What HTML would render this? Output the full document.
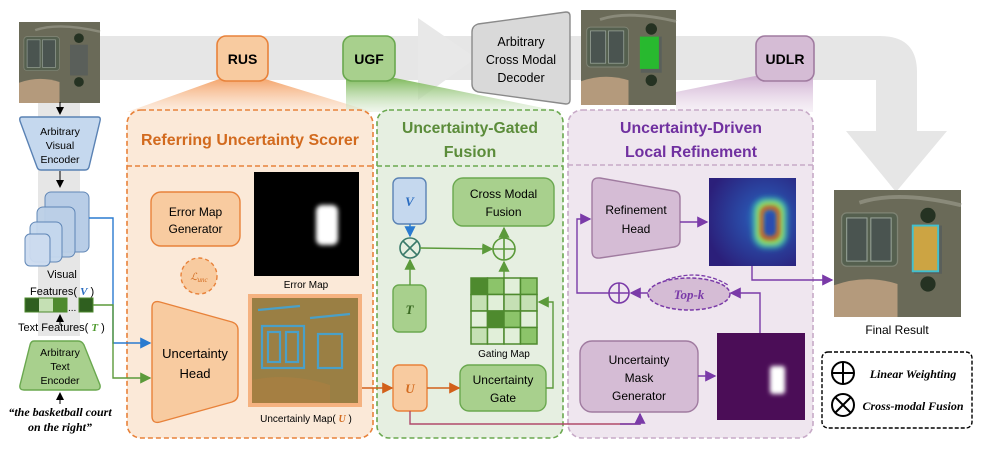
<!DOCTYPE html>
<html><head><meta charset="utf-8"><style>
html,body{margin:0;padding:0;background:#fff;}
svg{display:block;font-family:"Liberation Sans",sans-serif;}
</style></head><body>
<svg width="996" height="454" viewBox="0 0 996 454" xmlns="http://www.w3.org/2000/svg">
<defs>
<linearGradient id="go" x1="0" y1="0" x2="0" y2="1"><stop offset="0" stop-color="#f4a46a"/><stop offset="1" stop-color="#fbe3cf" stop-opacity="0.6"/></linearGradient>
<linearGradient id="gg" x1="0" y1="0" x2="0" y2="1"><stop offset="0" stop-color="#7fba5c"/><stop offset="1" stop-color="#e1eedb" stop-opacity="0.5"/></linearGradient>
<linearGradient id="gp" x1="0" y1="0" x2="0" y2="1"><stop offset="0" stop-color="#c9a6cc"/><stop offset="1" stop-color="#efe4ef" stop-opacity="0.5"/></linearGradient>
<radialGradient id="heat" cx="0.65" cy="0.45" r="0.7"><stop offset="0" stop-color="#2a7cc8"/><stop offset="0.35" stop-color="#2a4ca8"/><stop offset="1" stop-color="#2b1f7a"/></radialGradient>
<filter id="b3" x="-50%" y="-50%" width="200%" height="200%"><feGaussianBlur stdDeviation="3"/></filter>
<filter id="b2" x="-50%" y="-50%" width="200%" height="200%"><feGaussianBlur stdDeviation="2"/></filter>
<marker id="ab" markerWidth="8" markerHeight="8" refX="7" refY="4" orient="auto"><path d="M0,0L8,4L0,8z" fill="#2a7bd0"/></marker>
<marker id="ag" markerWidth="8" markerHeight="8" refX="7" refY="4" orient="auto"><path d="M0,0L8,4L0,8z" fill="#5b9a3a"/></marker>
<marker id="ao" markerWidth="8" markerHeight="8" refX="7" refY="4" orient="auto"><path d="M0,0L8,4L0,8z" fill="#d2601a"/></marker>
<marker id="ap" markerWidth="8" markerHeight="8" refX="7" refY="4" orient="auto"><path d="M0,0L8,4L0,8z" fill="#7a3aa8"/></marker>
<marker id="ak" markerWidth="8" markerHeight="8" refX="7" refY="4" orient="auto"><path d="M0,0L8,4L0,8z" fill="#000"/></marker>
<g id="aerial">
<rect x="0" y="0" width="100" height="100" fill="#6a6a58"/>
<path d="M0,75 Q25,66 50,74 L50,100 L0,100z" fill="#b49a7c"/>
<path d="M20,10 Q50,0 100,12" stroke="#8a8a7a" stroke-width="3" fill="none"/>
<rect x="6" y="18" width="44" height="42" rx="4" fill="#55604f" stroke="#7f8474"/>
<rect x="10" y="22" width="16" height="34" fill="#4a5450" stroke="#9aa59a" stroke-width="0.8"/>
<rect x="29" y="22" width="16" height="34" fill="#4a5450" stroke="#9aa59a" stroke-width="0.8"/>
<rect x="63" y="28" width="22" height="38" fill="#5a5f5a"/>
<circle cx="74" cy="20" r="6" fill="#253222"/><circle cx="74" cy="74" r="6" fill="#253222"/>
</g>
</defs>

<!-- gray band -->
<rect x="38" y="96" width="42" height="240" fill="#e6e6e6"/>
<rect x="100" y="36" width="380" height="44" fill="#e6e6e6"/>
<path d="M418,18 L476,58 L418,100z" fill="#e8e8e8"/>
<path d="M570,36 L880,36 Q917,36 917,72 L917,131 L947,131 L896,192 L846,131 L876,131 L876,80 L570,80z" fill="#e6e6e6"/>

<!-- fans -->
<path d="M222,78 L127,112 L373,112 L262,78z" fill="url(#go)"/>
<path d="M346,78 L346,112 L563,112 L395,78z" fill="url(#gg)"/>
<path d="M676,92 L676,112 L813,112 L813,72 L760,75z" fill="url(#gp)"/>

<!-- panels -->
<rect x="127" y="110" width="246" height="328" rx="14" fill="#fbe9d8" stroke="#e8823a" stroke-width="1.6" stroke-dasharray="5,3"/>
<line x1="127" y1="166" x2="373" y2="166" stroke="#e8823a" stroke-width="1.5" stroke-dasharray="5,3"/>
<rect x="377" y="110" width="186" height="328" rx="12" fill="#e6efe1" stroke="#6aa84f" stroke-width="1.6" stroke-dasharray="5,3"/>
<line x1="377" y1="166" x2="563" y2="166" stroke="#6aa84f" stroke-width="1.5" stroke-dasharray="5,3"/>
<rect x="568" y="110" width="245" height="328" rx="14" fill="#efe6ef" stroke="#c7aac7" stroke-width="1.6" stroke-dasharray="5,3"/>
<line x1="568" y1="165" x2="813" y2="165" stroke="#c7aac7" stroke-width="1.5" stroke-dasharray="5,3"/>

<text x="250" y="145" text-anchor="middle" font-size="16" font-weight="bold" fill="#d26a1e" textLength="218" lengthAdjust="spacingAndGlyphs">Referring Uncertainty Scorer</text>
<text x="470" y="133" text-anchor="middle" font-size="16" font-weight="bold" fill="#5b8c3a" textLength="136" lengthAdjust="spacingAndGlyphs">Uncertainty-Gated</text>
<text x="470" y="157" text-anchor="middle" font-size="16" font-weight="bold" fill="#5b8c3a">Fusion</text>
<text x="691" y="133" text-anchor="middle" font-size="16" font-weight="bold" fill="#7030a0" textLength="142" lengthAdjust="spacingAndGlyphs">Uncertainty-Driven</text>
<text x="691" y="157" text-anchor="middle" font-size="16" font-weight="bold" fill="#7030a0" textLength="132" lengthAdjust="spacingAndGlyphs">Local Refinement</text>

<!-- top buttons -->
<rect x="217" y="36" width="51" height="45" rx="9" fill="#f8cba0" stroke="#e8823a" stroke-width="1.6"/>
<text x="242.5" y="64" text-anchor="middle" font-size="14" font-weight="bold">RUS</text>
<rect x="343" y="36" width="52" height="45" rx="9" fill="#a8d08d" stroke="#6aa84f" stroke-width="1.6"/>
<text x="369" y="64" text-anchor="middle" font-size="14" font-weight="bold">UGF</text>
<rect x="756" y="36" width="58" height="45" rx="9" fill="#d5bcd5" stroke="#a07ba0" stroke-width="1.6"/>
<text x="785" y="64" text-anchor="middle" font-size="14" font-weight="bold">UDLR</text>

<!-- decoder -->
<path d="M478,24 L566,12 Q570,12 570,16 L570,100 Q570,104 566,104 L478,92 Q472,90 472,84 L472,32 Q472,26 478,24z" fill="#d9d9d9" stroke="#8a8a8a" stroke-width="1.4"/>
<text x="521" y="46" text-anchor="middle" font-size="12.5">Arbitrary</text>
<text x="521" y="64" text-anchor="middle" font-size="12.5">Cross Modal</text>
<text x="521" y="82" text-anchor="middle" font-size="12.5">Decoder</text>

<!-- images -->
<use href="#aerial" transform="translate(19,22) scale(0.81)"/>
<g transform="translate(581,10) scale(0.95)"><use href="#aerial"/><rect x="62" y="28" width="20" height="34" fill="#22c32a" opacity="0.9"/></g>
<g transform="translate(834,190) scale(1.27)"><use href="#aerial"/><rect x="62" y="28" width="20" height="36" fill="#e0b040" opacity="0.85"/><rect x="62" y="28" width="20" height="36" fill="none" stroke="#40c0d0" stroke-width="1.5"/></g>
<text x="897" y="334" text-anchor="middle" font-size="12">Final Result</text>

<!-- left column -->
<line x1="60" y1="102" x2="60" y2="114" stroke="#000" marker-end="url(#ak)"/>
<path d="M22,117 L98,117 Q101,117 100,121 L89,167 Q88,170 85,170 L41,170 Q38,170 37,167 L20,121 Q19,117 22,117z" fill="#c5d8ee" stroke="#5a82b4" stroke-width="1.4"/>
<text x="60" y="135" text-anchor="middle" font-size="10.5">Arbitrary</text>
<text x="60" y="149" text-anchor="middle" font-size="10.5">Visual</text>
<text x="60" y="163" text-anchor="middle" font-size="10.5">Encoder</text>
<line x1="60" y1="171" x2="60" y2="187" stroke="#000" marker-end="url(#ak)"/>
<rect x="45" y="192" width="44" height="60" rx="6" fill="#b5cbe6" stroke="#5a82b4" opacity="0.95"/>
<rect x="37" y="207" width="38" height="50" rx="6" fill="#bcd0e8" stroke="#5a82b4" opacity="0.95"/>
<rect x="30" y="222" width="32" height="40" rx="6" fill="#c5d8ee" stroke="#5a82b4" opacity="0.95"/>
<rect x="25" y="234" width="25" height="32" rx="5" fill="#cddcf0" stroke="#5a82b4" opacity="0.95"/>
<text x="62" y="278" text-anchor="middle" font-size="11">Visual</text>
<text x="30" y="295" font-size="11">Features( <tspan fill="#2a6cc0" font-style="italic" font-weight="bold" font-family="Liberation Serif">V</tspan> )</text>
<rect x="25" y="298" width="14" height="14" fill="#2f5f1f"/><rect x="39" y="298" width="14" height="14" fill="#c5e0b4"/><rect x="53" y="298" width="14" height="14" fill="#4e8a2e"/>
<rect x="25" y="298" width="42" height="14" fill="none" stroke="#4e8a2e"/>
<text x="68" y="311" font-size="10">...</text>
<rect x="79" y="298" width="14" height="14" fill="#2f5f1f" stroke="#4e8a2e"/>
<line x1="60" y1="325" x2="60" y2="315" stroke="#000" marker-end="url(#ak)"/>
<text x="18" y="331" font-size="11">Text Features( <tspan fill="#4e9a2e" font-style="italic" font-weight="bold" font-family="Liberation Serif">T</tspan> )</text>
<path d="M34,341 L78,341 Q82,341 84,345 L100,385 Q101,390 96,390 L24,390 Q19,390 20,385 L30,345 Q31,341 34,341z" fill="#a8d08d" stroke="#6aa84f" stroke-width="1.4"/>
<text x="60" y="356" text-anchor="middle" font-size="10.5">Arbitrary</text>
<text x="60" y="370" text-anchor="middle" font-size="10.5">Text</text>
<text x="60" y="384" text-anchor="middle" font-size="10.5">Encoder</text>
<line x1="60" y1="404" x2="60" y2="393" stroke="#000" marker-end="url(#ak)"/>
<text x="60" y="416" text-anchor="middle" font-size="12" font-weight="bold" font-style="italic" font-family="Liberation Serif">“the basketball court</text>
<text x="60" y="431" text-anchor="middle" font-size="12" font-weight="bold" font-style="italic" font-family="Liberation Serif">on the right”</text>

<!-- left connectors -->
<path d="M89,218 L113,218 L113,343 L150,343" fill="none" stroke="#2a7bd0" stroke-width="1.4" marker-end="url(#ab)"/>
<path d="M93,305 L113,305 L113,378 L150,378" fill="none" stroke="#5b9a3a" stroke-width="1.4" marker-end="url(#ag)"/>

<!-- RUS contents -->
<rect x="151" y="192" width="89" height="54" rx="10" fill="#f8cba0" stroke="#e8823a" stroke-width="1.4"/>
<text x="195.5" y="216" text-anchor="middle" font-size="12">Error Map</text>
<text x="195.5" y="233" text-anchor="middle" font-size="12">Generator</text>
<rect x="254" y="172" width="105" height="104" fill="#000"/>
<rect x="316" y="205" width="22" height="40" rx="6" fill="#fff" filter="url(#b2)"/>
<text x="306" y="288" text-anchor="middle" font-size="10">Error Map</text>
<circle cx="199" cy="276" r="18" fill="#f8cba0" stroke="#e8823a" stroke-width="1.4" stroke-dasharray="4,3"/>
<text x="199" y="280" text-anchor="middle" font-size="10" font-style="italic" font-family="Liberation Serif" fill="#d26a1e">ℒ<tspan font-size="7" dy="2">unc</tspan></text>
<path d="M160,302 L232,322 Q238,324 238,330 L238,394 Q238,400 232,402 L160,422 Q152,424 152,416 L152,308 Q152,300 160,302z" fill="#f8cba0" stroke="#e8823a" stroke-width="1.4"/>
<text x="195" y="358" text-anchor="middle" font-size="13">Uncertainty</text>
<text x="195" y="378" text-anchor="middle" font-size="13">Head</text>
<rect x="248" y="294" width="114" height="113" fill="#f4a46a" opacity="0.8"/>
<rect x="252" y="298" width="106" height="105" fill="#8a8648"/>
<rect x="252" y="298" width="106" height="105" fill="#c0703a" opacity="0.3"/>
<path d="M252,380 Q290,372 330,385 L330,403 L252,403z" fill="#b08040" opacity="0.5"/>
<g fill="none" stroke="#4aa0c8" stroke-width="2.2">
<rect x="262" y="326" width="42" height="42"/><rect x="268" y="332" width="12" height="30"/><rect x="286" y="332" width="12" height="30"/>
<rect x="318" y="334" width="24" height="34"/>
<path d="M258,310 L300,306 M310,318 L350,314"/>
</g>
<text x="306" y="422" text-anchor="middle" font-size="10">Uncertainly Map( <tspan fill="#d26a1e" font-style="italic" font-weight="bold" font-family="Liberation Serif">U</tspan> )</text>

<!-- UGF contents -->
<rect x="393" y="178" width="33" height="46" rx="6" fill="#c5d8ee" stroke="#5a82b4" stroke-width="1.4"/>
<text x="409.5" y="206" text-anchor="middle" font-size="13" font-weight="bold" font-style="italic" font-family="Liberation Serif" fill="#2a6cc0">V</text>
<rect x="393" y="285" width="33" height="47" rx="6" fill="#a8d08d" stroke="#6aa84f" stroke-width="1.4"/>
<text x="409.5" y="314" text-anchor="middle" font-size="13" font-weight="bold" font-style="italic" font-family="Liberation Serif" fill="#3a6a22">T</text>
<rect x="453" y="178" width="101" height="48" rx="10" fill="#a8d08d" stroke="#6aa84f" stroke-width="1.4"/>
<text x="503.5" y="198" text-anchor="middle" font-size="12">Cross Modal</text>
<text x="503.5" y="216" text-anchor="middle" font-size="12">Fusion</text>
<line x1="410" y1="224" x2="410" y2="236" stroke="#2a7bd0" stroke-width="1.4" marker-end="url(#ab)"/>
<line x1="410" y1="285" x2="410" y2="260" stroke="#5b9a3a" stroke-width="1.4" marker-end="url(#ag)"/>
<circle cx="410" cy="248" r="10" fill="none" stroke="#3a7a6a" stroke-width="1.6"/>
<path d="M403,241L417,255M417,241L403,255" stroke="#3a7a6a" stroke-width="1.6"/>
<line x1="420" y1="248" x2="492" y2="249" stroke="#5b9a3a" stroke-width="1.4" marker-end="url(#ag)"/>
<circle cx="504" cy="249" r="11" fill="none" stroke="#5b9a3a" stroke-width="1.6"/>
<path d="M493,249H515M504,238V260" stroke="#5b9a3a" stroke-width="1.6"/>
<line x1="504" y1="238" x2="504" y2="228" stroke="#5b9a3a" stroke-width="1.4" marker-end="url(#ag)"/>
<line x1="504" y1="278" x2="504" y2="262" stroke="#5b9a3a" stroke-width="1.4" marker-end="url(#ag)"/>
<g stroke="#4e8a2e" stroke-width="1.5">
<rect x="471" y="278" width="16.5" height="16.5" fill="#4e8a2e"/><rect x="487.5" y="278" width="16.5" height="16.5" fill="#8cc46a"/><rect x="504" y="278" width="16.5" height="16.5" fill="#e1efd9"/><rect x="520.5" y="278" width="16.5" height="16.5" fill="#8cc46a"/>
<rect x="471" y="294.5" width="16.5" height="16.5" fill="#c5e0b4"/><rect x="487.5" y="294.5" width="16.5" height="16.5" fill="#e1efd9"/><rect x="504" y="294.5" width="16.5" height="16.5" fill="#c5e0b4"/><rect x="520.5" y="294.5" width="16.5" height="16.5" fill="#c5e0b4"/>
<rect x="471" y="311" width="16.5" height="16.5" fill="#e1efd9"/><rect x="487.5" y="311" width="16.5" height="16.5" fill="#4e8a2e"/><rect x="504" y="311" width="16.5" height="16.5" fill="#8cc46a"/><rect x="520.5" y="311" width="16.5" height="16.5" fill="#e1efd9"/>
<rect x="471" y="327.5" width="16.5" height="16.5" fill="#c5e0b4"/><rect x="487.5" y="327.5" width="16.5" height="16.5" fill="#e1efd9"/><rect x="504" y="327.5" width="16.5" height="16.5" fill="#e1efd9"/><rect x="520.5" y="327.5" width="16.5" height="16.5" fill="#8cc46a"/>
</g>
<text x="504" y="357" text-anchor="middle" font-size="10">Gating Map</text>
<rect x="393" y="365" width="34" height="46" rx="6" fill="#f8cba0" stroke="#e8823a" stroke-width="1.4"/>
<text x="410" y="393" text-anchor="middle" font-size="13" font-weight="bold" font-style="italic" font-family="Liberation Serif" fill="#d26a1e">U</text>
<rect x="460" y="365" width="86" height="46" rx="9" fill="#a8d08d" stroke="#6aa84f" stroke-width="1.4"/>
<text x="503" y="384" text-anchor="middle" font-size="12">Uncertainty</text>
<text x="503" y="402" text-anchor="middle" font-size="12">Gate</text>
<line x1="362" y1="388" x2="392" y2="388" stroke="#d2601a" stroke-width="1.4" marker-end="url(#ao)"/>
<line x1="427" y1="388" x2="459" y2="388" stroke="#d2601a" stroke-width="1.4" marker-end="url(#ao)"/>
<path d="M546,388 L553,388 L553,302 L539,302" fill="none" stroke="#5b9a3a" stroke-width="1.4" marker-end="url(#ag)"/>
<path d="M410,411 L410,424 L640,424 L640,414" fill="none" stroke="#b04a6a" stroke-width="1.4"/>
<path d="M620,424 L640,424 L640,414" fill="none" stroke="#7a3aa8" stroke-width="1.4" marker-end="url(#ap)"/>

<!-- UDLR contents -->
<path d="M600,178 L674,191 Q680,192 680,198 L680,240 Q680,246 674,247 L600,258 Q592,259 592,251 L592,185 Q592,177 600,178z" fill="#d5bcd5" stroke="#a07ba0" stroke-width="1.4"/>
<text x="636" y="214" text-anchor="middle" font-size="12">Refinement</text>
<text x="636" y="233" text-anchor="middle" font-size="12">Head</text>
<rect x="709" y="178" width="87" height="88" fill="url(#heat)"/>
<g filter="url(#b3)">
<rect x="758" y="203" width="24" height="40" rx="8" fill="none" stroke="#30c0b0" stroke-width="10"/>
<rect x="760" y="205" width="20" height="36" rx="7" fill="none" stroke="#a0e020" stroke-width="6"/>
</g>
<rect x="762" y="208" width="16" height="30" rx="6" fill="none" stroke="#e84020" stroke-width="3" filter="url(#b2)"/>
<rect x="765" y="212" width="10" height="22" rx="3" fill="#2a4cb0" filter="url(#b2)"/>
<line x1="680" y1="222" x2="707" y2="222" stroke="#7a3aa8" stroke-width="1.4" marker-end="url(#ap)"/>
<path d="M752,266 L752,280 L832,280" fill="none" stroke="#7a3aa8" stroke-width="1.4" marker-end="url(#ap)"/>
<ellipse cx="689" cy="294" rx="41" ry="16" fill="#d5bcd5" stroke="#7a3aa8" stroke-width="1.5" stroke-dasharray="4,2"/>
<path d="M666,280 Q700,268 728,285" fill="none" stroke="#7a3aa8" stroke-width="1.3" stroke-dasharray="4,2"/>
<text x="689" y="299" text-anchor="middle" font-size="13" font-weight="bold" font-style="italic" font-family="Liberation Serif" fill="#7a3aa8">Top-k</text>
<path d="M760,333 L760,293 L731,293" fill="none" stroke="#7a3aa8" stroke-width="1.4" marker-end="url(#ap)"/>
<line x1="648" y1="293" x2="631" y2="293" stroke="#7a3aa8" stroke-width="1.4" marker-end="url(#ap)"/>
<circle cx="619" cy="293" r="10" fill="none" stroke="#7a3aa8" stroke-width="1.6"/>
<path d="M609,293H629M619,283V303" stroke="#7a3aa8" stroke-width="1.6"/>
<path d="M609,293 L577,293 L577,219 L590,219" fill="none" stroke="#7a3aa8" stroke-width="1.4" marker-end="url(#ap)"/>
<rect x="580" y="341" width="118" height="71" rx="12" fill="#d5bcd5" stroke="#a07ba0" stroke-width="1.4"/>
<text x="639" y="364" text-anchor="middle" font-size="12">Uncertainty</text>
<text x="639" y="382" text-anchor="middle" font-size="12">Mask</text>
<text x="639" y="400" text-anchor="middle" font-size="12">Generator</text>
<rect x="717" y="333" width="88" height="87" fill="#4b0d57"/>
<rect x="770" y="366" width="15" height="28" rx="3" fill="#fff" filter="url(#b2)"/>
<line x1="698" y1="376" x2="715" y2="376" stroke="#7a3aa8" stroke-width="1.4" marker-end="url(#ap)"/>

<!-- legend -->
<rect x="822" y="352" width="150" height="76" rx="6" fill="#fff" stroke="#000" stroke-width="1.4" stroke-dasharray="4,2"/>
<circle cx="843" cy="373" r="11" fill="none" stroke="#000" stroke-width="2"/>
<path d="M832,373H854M843,362V384" stroke="#000" stroke-width="2"/>
<circle cx="843" cy="405" r="11" fill="none" stroke="#000" stroke-width="2"/>
<path d="M835,397L851,413M851,397L835,413" stroke="#000" stroke-width="2"/>
<text x="913" y="378" text-anchor="middle" font-size="12" font-weight="bold" font-style="italic" font-family="Liberation Serif">Linear Weighting</text>
<text x="913" y="410" text-anchor="middle" font-size="12" font-weight="bold" font-style="italic" font-family="Liberation Serif">Cross-modal Fusion</text>
</svg>
</body></html>
